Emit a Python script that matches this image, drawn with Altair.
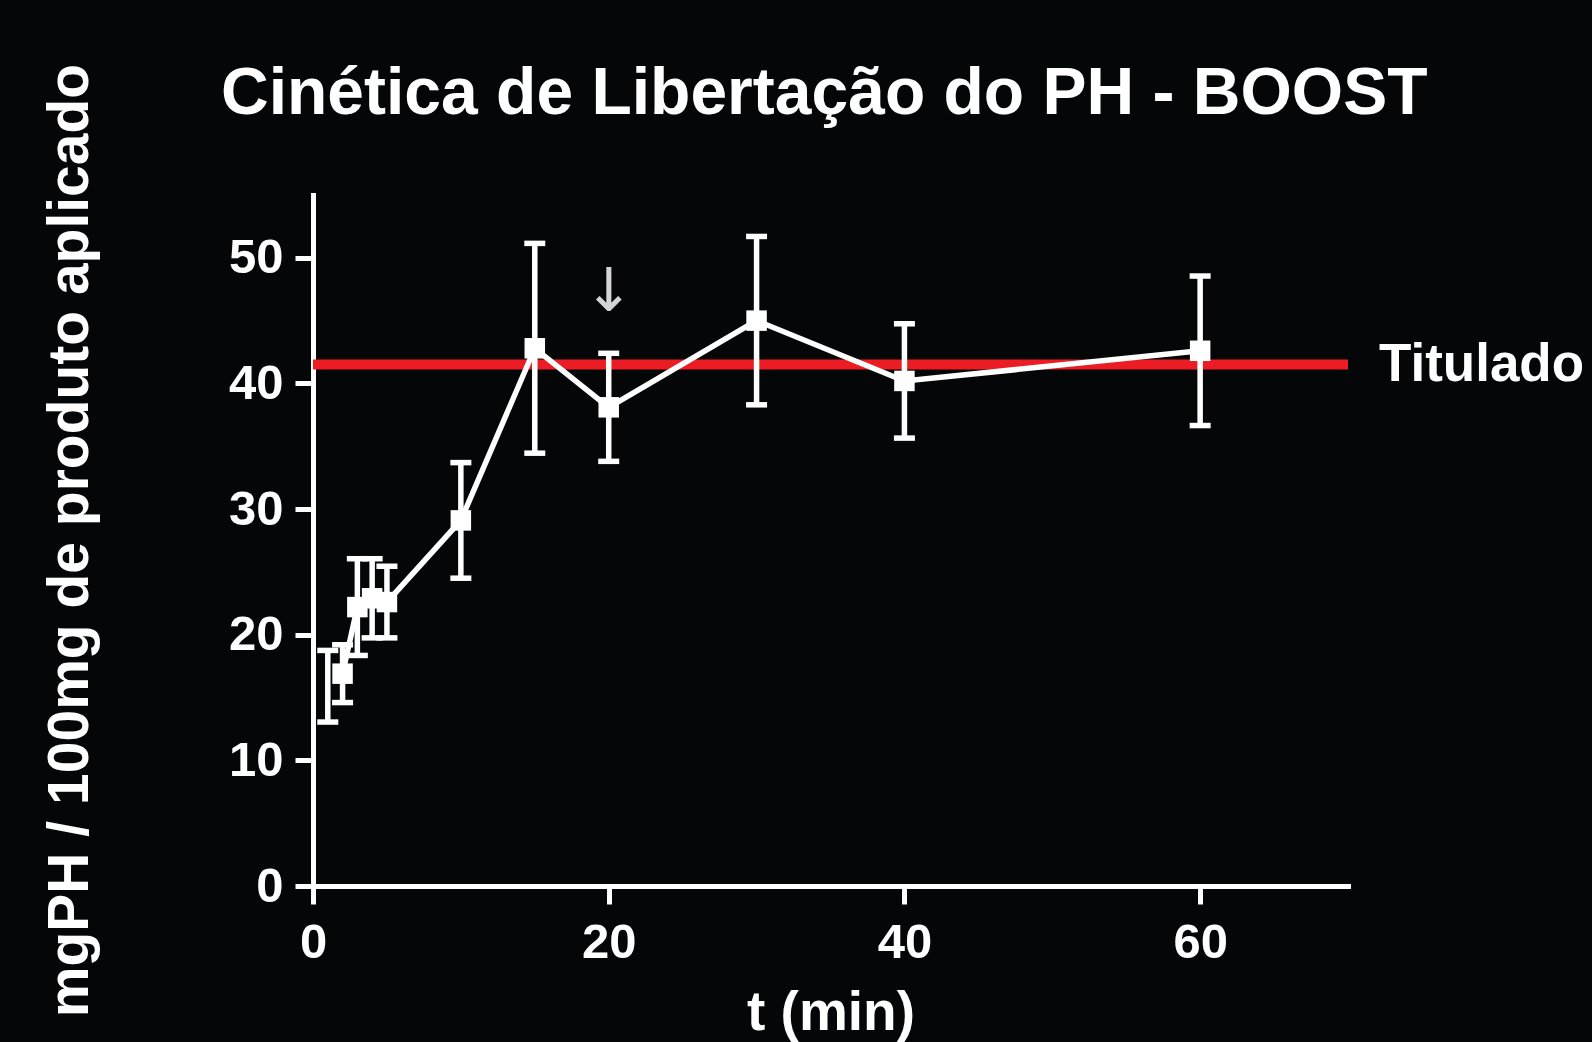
import altair as alt
import pandas as pd
import jinja2

# ---- data ----
t_min = [1, 2, 3, 4, 5, 10, 15, 20, 30, 40, 60]
mean_ph = [15.9, 16.9, 22.2, 22.9, 22.6, 29.1, 42.8, 38.1, 45.0, 40.2, 42.6]
sem_ph = [2.85, 2.3, 3.85, 3.15, 2.85, 4.6, 8.35, 4.3, 6.7, 4.55, 5.95]
show_marker = [False, True, True, True, True, True, True, True, True, True, True]
titulado_value = [41.5]
titulado_label = ["Titulado"]
arrow_t = [20]
arrow_y = [47.2]
x_ticks = [0, 20, 40, 60]
y_ticks = [0, 10, 20, 30, 40, 50]
x_domain = [0, 70]
y_domain = [0, 55]

FONT = "Liberation Sans"
WHITE = "#ffffff"
RED = "#ec1c24"
BG = "#040607"

df = pd.DataFrame({"t": t_min, "mean": mean_ph, "sem": sem_ph, "show": show_marker})
df["lo"] = df["mean"] - df["sem"]
df["hi"] = df["mean"] + df["sem"]

ref_df = pd.DataFrame({"x0": [x_domain[0]], "x1": [x_domain[1]],
                       "y": titulado_value, "label": titulado_label})
arrow_df = pd.DataFrame({"t": arrow_t, "y": arrow_y, "txt": ["↓"]})

xscale = alt.Scale(domain=x_domain, nice=False, zero=True)
yscale = alt.Scale(domain=y_domain, nice=False, zero=True)

x_axis = alt.Axis(values=x_ticks, title="t (min)", titleY=143, titleFontSize=55,
                  titleBaseline="alphabetic", labelPadding=14, labelFlush=False)
y_axis = alt.Axis(values=y_ticks, title="mgPH / 100mg de produto aplicado",
                  titleX=-226, titleY=345, titleAngle=270, titleAlign="center",
                  titleBaseline="alphabetic", labelPadding=12, labelFlush=False)

ref_rule = alt.Chart(ref_df).mark_rule(color=RED, strokeWidth=10).encode(
    x=alt.X("x0:Q", scale=xscale, axis=x_axis),
    x2="x1",
    y=alt.Y("y:Q", scale=yscale, axis=y_axis),
)

ref_label = alt.Chart(ref_df).mark_text(
    align="left", baseline="middle", dx=31, fontSize=53, font=FONT,
    fontWeight="bold", color=WHITE
).encode(x=alt.X("x1:Q", scale=xscale), y=alt.Y("y:Q", scale=yscale), text="label:N")

err_rule = alt.Chart(df).mark_rule(color=WHITE, strokeWidth=5.5).encode(
    x=alt.X("t:Q", scale=xscale), y=alt.Y("lo:Q", scale=yscale), y2="hi"
)
cap_lo = alt.Chart(df).mark_tick(color=WHITE, orient="horizontal", size=21,
                                 thickness=5.5, opacity=1).encode(
    x=alt.X("t:Q", scale=xscale), y=alt.Y("lo:Q", scale=yscale)
)
cap_hi = alt.Chart(df).mark_tick(color=WHITE, orient="horizontal", size=21,
                                 thickness=5.5, opacity=1).encode(
    x=alt.X("t:Q", scale=xscale), y=alt.Y("hi:Q", scale=yscale)
)
line = alt.Chart(df).transform_filter("datum.show").mark_line(
    color=WHITE, strokeWidth=5.5
).encode(x=alt.X("t:Q", scale=xscale), y=alt.Y("mean:Q", scale=yscale))
points = alt.Chart(df).transform_filter("datum.show").mark_square(
    size=420, color=WHITE, opacity=1, filled=True
).encode(x=alt.X("t:Q", scale=xscale), y=alt.Y("mean:Q", scale=yscale))
arrow = alt.Chart(arrow_df).mark_text(
    font="DejaVu Sans", fontSize=60, color="#d4d4d4", baseline="middle", align="center"
).encode(x=alt.X("t:Q", scale=xscale), y=alt.Y("y:Q", scale=yscale), text="txt:N")

chart = alt.layer(
    ref_rule, err_rule, cap_lo, cap_hi, line, points, arrow, ref_label
).properties(
    width=1035,
    height=691,
    title=alt.TitleParams(
        "Cinética de Libertação do PH - BOOST", anchor="start", frame="group",
        dx=-92, dy=117, offset=0, fontSize=66, font=FONT, fontWeight="bold",
        color=WHITE, baseline="alphabetic"
    ),
    autosize=alt.AutoSizeParams(type="none"),
    padding={"left": 313, "top": 195, "right": 244, "bottom": 156},
    background=BG,
).configure_view(stroke=None).configure_axis(
    grid=False,
    domainColor=WHITE, domainWidth=5, domainCap="square",
    tickColor=WHITE, tickWidth=5, tickSize=18,
    labelColor=WHITE, labelFont=FONT, labelFontSize=49, labelFontWeight="bold",
    titleColor=WHITE, titleFont=FONT, titleFontSize=57, titleFontWeight="bold",
)

PAGE = jinja2.Template("""<!DOCTYPE html>
<html>
<head>
  <meta charset="utf-8">
  <style>
    html, body { margin: 0; padding: 0; background: #040607; overflow: hidden; }
  </style>
  <script type="text/javascript" src="{{ base_url }}/vega@{{ vega_version }}"></script>
  <script type="text/javascript" src="{{ base_url }}/vega-lite@{{ vegalite_version }}"></script>
  <script type="text/javascript" src="{{ base_url }}/vega-embed@{{ vegaembed_version }}"></script>
</head>
<body>
  <div id="{{ output_div }}"></div>
  <script>
    var spec = {{ spec }};
    var embedOpt = {{ embed_options }};
    vegaEmbed("#{{ output_div }}", spec, embedOpt);
  </script>
</body>
</html>
""")

chart.save("out.html", embed_options={"renderer": "svg", "actions": False}, template=PAGE)
